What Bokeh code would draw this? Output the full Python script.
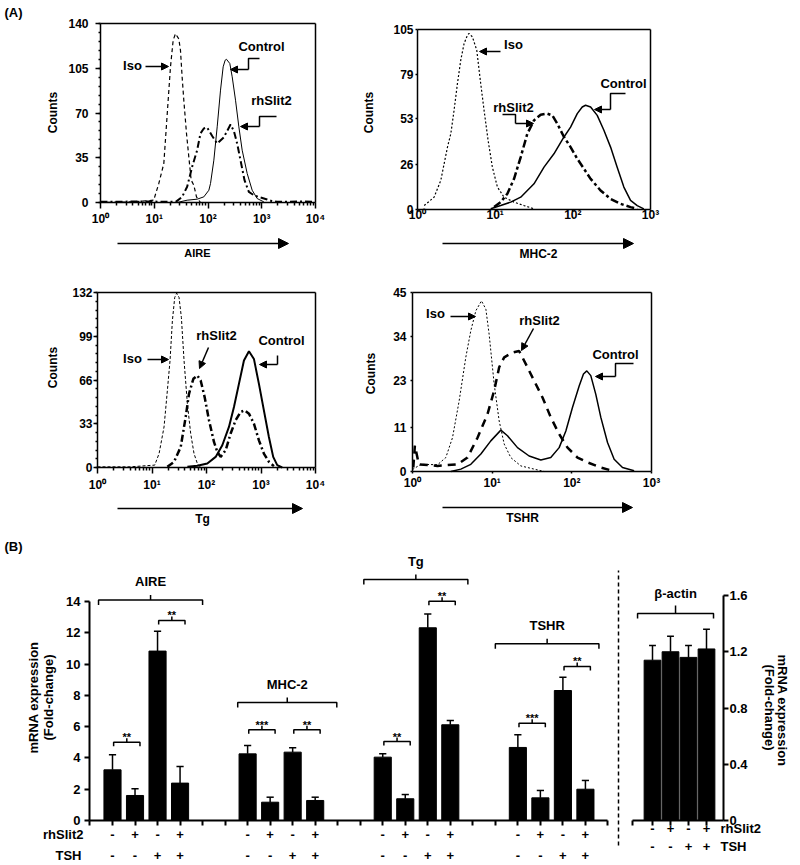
import numpy as np
from bokeh.plotting import figure
from bokeh.layouts import row, column
from bokeh.models import FixedTicker, Label, Arrow, NormalHead, LinearAxis, LogAxis
from bokeh.core.properties import value
from bokeh.embed import file_html
from bokeh.resources import INLINE

# ------------------------------------------------------------------ data (A)
# flow-cytometry histograms: fluorescence as log10 position, and cell counts
aire_iso_log10 = [0.0, 0.6, 0.99, 1.085, 1.178, 1.259, 1.302, 1.352, 1.395, 1.457, 1.488, 1.519, 1.550, 1.600, 1.643, 1.687, 1.736, 1.786, 1.860]
aire_iso_counts = [0, 0.5, 1.8, 14.9, 30.5, 80, 106, 127, 132, 128, 119, 98, 80, 54, 35.7, 17.5, 13.6, 4.4, 0]
aire_ctrl_log10 = [1.426, 1.612, 1.798, 1.922, 2.016, 2.047, 2.109, 2.171, 2.233, 2.282, 2.319, 2.344, 2.406, 2.450, 2.512, 2.574, 2.636, 2.729, 2.822, 2.915, 3.039]
aire_ctrl_counts = [0, 1.8, 2.6, 4.4, 9.6, 14.9, 33.1, 59.2, 87.9, 106.1, 111.3, 112, 108.7, 98.3, 80, 59.2, 40.9, 22.7, 9.6, 3.1, 0.5]
aire_rh_log10 = [0.0, 0.8, 1.4, 1.519, 1.612, 1.705, 1.798, 1.860, 1.922, 1.984, 2.078, 2.171, 2.295, 2.419, 2.481, 2.543, 2.605, 2.679, 2.760, 2.853, 2.977, 3.101, 3.194, 3.287, 3.7, 4.0]
aire_rh_counts = [0.5, 0.8, 0.5, 4.4, 12.3, 27.9, 40.9, 54, 57.9, 58.7, 52, 46.1, 51, 61, 56, 46, 33, 17.5, 8.3, 5.7, 3.9, 2.3, 1, 0.5, 0.8, 0.5]

mhc2_iso_log10 = [0.086, 0.214, 0.3, 0.386, 0.429, 0.471, 0.514, 0.557, 0.6, 0.643, 0.664, 0.707, 0.763, 0.814, 0.857, 0.909, 0.964, 1.029, 1.114, 1.243, 1.371, 1.5]
mhc2_iso_counts = [2.3, 7.2, 17, 36.4, 44.2, 57.9, 73.4, 87.1, 96.8, 101.7, 102.7, 100.7, 92.9, 73.4, 57.9, 40.3, 24.7, 13.1, 7.2, 4.3, 2.3, 0.4]
mhc2_rh_log10 = [0.986, 1.071, 1.157, 1.243, 1.329, 1.414, 1.5, 1.586, 1.671, 1.736, 1.8, 1.886, 1.971, 2.057, 2.143, 2.229, 2.357, 2.486, 2.614, 2.743, 2.829]
mhc2_rh_counts = [1.4, 4.3, 9.2, 17.9, 30.6, 44.2, 52, 55.3, 55.9, 54.9, 50.1, 42.3, 36.4, 29.6, 23.8, 17.9, 11.1, 6.2, 3.3, 1.4, 0.4]
mhc2_ctrl_log10 = [0.943, 1.071, 1.2, 1.329, 1.5, 1.629, 1.757, 1.886, 1.971, 2.057, 2.121, 2.164, 2.229, 2.314, 2.4, 2.486, 2.571, 2.657, 2.743, 2.829, 2.914]
mhc2_ctrl_counts = [0.4, 2.3, 4.3, 7.2, 15, 24.7, 32.5, 42.3, 48.1, 55.9, 59.8, 60.8, 59.8, 54.9, 46.2, 36.4, 24.7, 13.1, 5.3, 2.3, 0.4]

tg_iso_log10 = [0.0, 0.6, 1.05, 1.13, 1.221, 1.282, 1.331, 1.374, 1.417, 1.453, 1.496, 1.539, 1.588, 1.649, 1.71, 1.771, 1.832, 1.893]
tg_iso_counts = [0.5, 0.5, 1.8, 10.5, 30.6, 58.1, 80.7, 110.7, 128.3, 131.5, 128.3, 113.2, 80.7, 48.1, 25.6, 10.5, 3, 0]
tg_rh_log10 = [1.282, 1.405, 1.527, 1.618, 1.679, 1.759, 1.832, 1.893, 1.966, 2.046, 2.137, 2.198, 2.26, 2.351, 2.443, 2.534, 2.626, 2.699, 2.779, 2.87, 2.962, 3.053, 3.145, 3.237]
tg_rh_counts = [0.5, 4.3, 15.5, 38.1, 55.6, 66.9, 69.4, 65.6, 53.1, 35.6, 19.3, 11.8, 8, 13, 25.6, 35.6, 41.8, 43.1, 40.6, 33.1, 20.5, 10.5, 4.3, 1]
tg_ctrl_log10 = [1.649, 1.832, 2.015, 2.168, 2.29, 2.412, 2.504, 2.595, 2.687, 2.779, 2.87, 2.962, 3.053, 3.145, 3.224, 3.298, 3.389]
tg_ctrl_counts = [0.5, 1.3, 3, 8, 16.8, 30.6, 45.6, 63.1, 80.7, 87.7, 81.9, 63.1, 43.1, 23, 8, 1.8, 0]

tshr_iso_log10 = [0.0, 0.105, 0.314, 0.418, 0.502, 0.586, 0.669, 0.732, 0.795, 0.866, 0.921, 0.962, 1.025, 1.088, 1.151, 1.234, 1.36, 1.527, 1.653]
tshr_iso_counts = [0.5, 1.8, 1.7, 3.5, 8.5, 17.8, 28.7, 35.4, 40.4, 42.9, 40.8, 34.5, 22, 12.7, 6.9, 3.5, 1.4, 0.6, 0]
tshr_rh_log10 = [0.01, 0.03, 0.08, 0.314, 0.565, 0.69, 0.816, 0.941, 1.025, 1.088, 1.151, 1.255, 1.339, 1.423, 1.527, 1.632, 1.736, 1.841, 1.946, 2.071, 2.197, 2.364, 2.49]
tshr_rh_counts = [1.0, 6.5, 1.8, 1.4, 1.8, 3.5, 8.5, 14.4, 20.3, 26.2, 28.7, 29.9, 30.3, 27, 22.8, 18.6, 13.6, 9.4, 6, 3.5, 2.3, 1, 0.3]
tshr_ctrl_log10 = [0.481, 0.607, 0.732, 0.858, 0.983, 1.109, 1.192, 1.318, 1.464, 1.611, 1.736, 1.841, 1.925, 2.008, 2.092, 2.146, 2.188, 2.238, 2.301, 2.364, 2.448, 2.531, 2.636, 2.782]
tshr_ctrl_counts = [0, 0.6, 1.8, 4.4, 7.7, 10.4, 9, 6, 3.9, 2.9, 3.5, 6, 10.2, 16.1, 21.5, 24.5, 25.3, 24.1, 19.4, 13.6, 7.3, 3.1, 1, 0.2]

aire_yticks = [0, 35, 70, 105, 140]
mhc2_yticks = [0, 26, 53, 79, 105]
tg_yticks = [0, 33, 66, 99, 132]
tshr_yticks = [0, 11, 23, 34, 45]
superscripts = ["\u2070", "\u00b9", "\u00b2", "\u00b3", "\u2074"]

# ------------------------------------------------------------------ data (B)
gene_groups = ["AIRE", "MHC-2", "Tg", "TSHR"]
row_names = ["rhSlit2", "TSH"]
rhslit2_signs = ["-", "+", "-", "+"]
tsh_signs = ["-", "-", "+", "+"]
aire_mean = [3.24, 1.60, 10.83, 2.39]
aire_sem = [0.96, 0.43, 1.27, 1.06]
mhc2_mean = [4.26, 1.17, 4.37, 1.28]
mhc2_sem = [0.54, 0.32, 0.28, 0.21]
tg_mean = [4.05, 1.39, 12.32, 6.12]
tg_sem = [0.21, 0.27, 0.88, 0.27]
tshr_mean = [4.67, 1.45, 8.31, 2.00]
tshr_sem = [0.81, 0.47, 0.85, 0.56]
sig_labels = [["**", "**"], ["***", "**"], ["**", "**"], ["***", "**"]]
actin_mean = [1.14, 1.20, 1.16, 1.22]
actin_sem = [0.105, 0.11, 0.085, 0.14]
b_yticks = [0, 2, 4, 6, 8, 10, 12, 14]
actin_yticks = [0, 0.4, 0.8, 1.2, 1.6]

FONT = "Liberation Sans"


class Frame:
    """page-pixel -> data converter; every figure's frame fills its whole canvas"""
    def __init__(self, left, top, w, h, xr, yr, logx=False):
        self.left, self.top, self.w, self.h = left, top, w, h
        self.xr, self.yr, self.logx = xr, yr, logx

    def x(self, px):
        t = (px - self.left) / self.w
        if self.logx:
            a, b = np.log10(self.xr[0]), np.log10(self.xr[1])
            return float(10 ** (a + t * (b - a)))
        return self.xr[0] + t * (self.xr[1] - self.xr[0])

    def y(self, py):
        t = (py - self.top) / self.h
        return self.yr[1] - t * (self.yr[1] - self.yr[0])


def span_at(p0, v0, p1, v1, c0, c1):
    """values at canvas edges c0, c1 of a linear pixel->value map through (p0, v0), (p1, v1)"""
    k = (v1 - v0) / (p1 - p0)
    return v0 + (c0 - p0) * k, v0 + (c1 - p0) * k


def canvas_fig(ox, oy, W, H, xmap, ymap, logx=False):
    xa, xb = span_at(xmap[0], xmap[1], xmap[2], xmap[3], ox, ox + W)
    yb_, ya_ = span_at(ymap[0], ymap[1], ymap[2], ymap[3], oy, oy + H)
    xr = (10 ** xa, 10 ** xb) if logx else (xa, xb)
    yr = (ya_, yb_)
    p = figure(width=W, height=H, x_range=xr, y_range=yr, x_axis_type="log" if logx else "linear",
               x_axis_location=None, y_axis_location=None,
               min_border_left=0, min_border_right=0, min_border_top=0, min_border_bottom=0,
               output_backend="svg", toolbar_location=None)
    p.outline_line_color = None
    p.background_fill_color = "white"
    p.border_fill_color = "white"
    p.grid.visible = False
    return p, Frame(ox, oy, W, H, xr, yr, logx)


def rule(p, side, loc, bounds, ticks=(), tick_len=0, width=1.5, line=True, dash=None, cls=LinearAxis):
    """an axis line (with optional outward ticks) fixed at a data location; labels are set as text"""
    ax = cls(fixed_location=loc, bounds=tuple(bounds), ticker=FixedTicker(ticks=[], minor_ticks=list(ticks)),
             major_tick_out=0, major_tick_in=0, minor_tick_out=tick_len, minor_tick_in=0,
             minor_tick_line_color="black", minor_tick_line_width=width, major_label_standoff=0,
             axis_line_color="black" if line else None, axis_line_width=width)
    if dash:
        ax.axis_line_dash = dash
    p.add_layout(ax, side)
    return ax


def txt(p, xs, ys, texts, size=13, align="center", baseline="middle", angle=0.0, font=FONT):
    p.text(x=list(xs), y=list(ys), text=list(texts), angle=angle, text_font=value(font),
           text_font_style="bold", text_font_size=f"{size}px", text_align=align,
           text_baseline=baseline, text_color="black")


def label(p, g, px, py, text, size=13, align="center", angle=0.0):
    p.add_layout(Label(x=g.x(px), y=g.y(py), text=text, text_font=FONT,
                       text_font_size=f"{size}px", text_font_style="bold", text_color="black",
                       text_align=align, text_baseline="middle", angle=angle))


def pointer(p, g, pts, head=7, lw=1.5):
    if len(pts) > 2:
        p.line([g.x(a) for a, _ in pts[:-1]], [g.y(b) for _, b in pts[:-1]],
               line_color="black", line_width=lw)
    (x0, y0), (x1, y1) = pts[-2], pts[-1]
    p.add_layout(Arrow(end=NormalHead(size=head, fill_color="black", line_color="black", line_width=1),
                       x_start=g.x(x0), y_start=g.y(y0), x_end=g.x(x1), y_end=g.y(y1),
                       line_color="black", line_width=lw))


def hist_panel(canvas, box, ndec, yticks, minor, xtick_len, ytick_len, xlab_py, ylab_px, counts_px,
               caption, cap_size, arrow_px, cap_px):
    ox, oy, W, H = canvas
    bl, bt, br, bb = box
    ymax = yticks[-1]
    xmax = 10 ** ndec
    p, g = canvas_fig(ox, oy, W, H, (bl, 0.0, br, float(ndec)), (bb, 0.0, bt, float(ymax)), logx=True)
    decades = [10 ** k for k in range(ndec + 1)]
    rule(p, "left", 1, (0, ymax), yticks, ytick_len)
    rule(p, "below", 0, (1, xmax), decades, xtick_len, cls=LogAxis)
    rule(p, "above", ymax, (1, xmax), cls=LogAxis)
    rule(p, "right", xmax, (0, ymax))
    if minor:
        step = (yticks[1] - yticks[0]) / 5
        rule(p, "left", 1, (0, ymax), [k * step for k in range(5 * (len(yticks) - 1) + 1)], 2, line=False)
        rule(p, "below", 0, (1, xmax), [m * 10 ** k for k in range(ndec) for m in range(2, 10)], 3,
             line=False, cls=LogAxis)
    txt(p, decades, [g.y(xlab_py)] * len(decades), ["10" + superscripts[k] for k in range(ndec + 1)], size=12)
    txt(p, [g.x(ylab_px)] * len(yticks), yticks, [str(t) for t in yticks], size=12, align="right")
    txt(p, [g.x(counts_px[0])], [g.y(counts_px[1])], ["Counts"], size=12, angle=np.pi / 2)
    pointer(p, g, arrow_px, head=10)
    txt(p, [g.x(cap_px[0])], [g.y(cap_px[1])], [caption], size=cap_size)
    return p, g


def curves(p, iso, rh, ctrl, iso_style, rh_style, ctrl_w):
    p.line(10 ** np.array(iso[0]), iso[1], line_color="black", line_width=iso_style[1], line_dash=iso_style[0])
    p.line(10 ** np.array(rh[0]), rh[1], line_color="black", line_width=rh_style[1], line_dash=rh_style[0])
    p.line(10 ** np.array(ctrl[0]), ctrl[1], line_color="black", line_width=ctrl_w)


# ---------------------------------------------------------------- A1: AIRE
p1, g1 = hist_panel((0, 0, 355, 270), (100, 23, 315, 202), 4, aire_yticks, True, 6, 5, 218, 88, (52, 112),
                    "AIRE", 11, [(117, 243), (288, 243)], (197, 252))
curves(p1, (aire_iso_log10, aire_iso_counts), (aire_rh_log10, aire_rh_counts), (aire_ctrl_log10, aire_ctrl_counts),
       ("4 3", 1.2), ("7 3 2 3", 2.0), 1.0)
txt(p1, [g1.x(4)], [g1.y(12)], ["(A)"], size=13, align="left")
label(p1, g1, 132, 65, "Iso", 13)
pointer(p1, g1, [(145, 66), (168, 66)])
label(p1, g1, 261, 46, "Control", 13)
pointer(p1, g1, [(259, 58), (248, 58), (248, 69), (230, 69)])
label(p1, g1, 271, 100, "rhSlit2", 13)
pointer(p1, g1, [(276, 116), (259, 116), (259, 126), (240, 126)])

# ---------------------------------------------------------------- A2: MHC-2
p2, g2 = hist_panel((355, 0, 443, 270), (417, 29, 650, 209), 3, mhc2_yticks, False, 2, 2, 214, 413, (368, 112),
                    "MHC-2", 12, [(442, 243), (633, 243)], (538, 253))
curves(p2, (mhc2_iso_log10, mhc2_iso_counts), (mhc2_rh_log10, mhc2_rh_counts), (mhc2_ctrl_log10, mhc2_ctrl_counts),
       ("2 2", 1.2), ("8 3 3 3", 2.5), 1.5)
label(p2, g2, 513, 44, "Iso", 13)
pointer(p2, g2, [(500, 51), (479, 51)])
label(p2, g2, 623, 83, "Control", 13)
pointer(p2, g2, [(625, 93), (610, 93), (610, 109), (594, 109)])
label(p2, g2, 513, 107, "rhSlit2", 13)
pointer(p2, g2, [(502, 114), (515, 114), (515, 123), (533, 123)])

# ---------------------------------------------------------------- A3: Tg
p3, g3 = hist_panel((0, 270, 355, 260), (97, 292, 315, 467), 4, tg_yticks, True, 6, 4, 484, 92, (52, 367),
                    "Tg", 12, [(117, 508), (302, 508)], (202, 518))
curves(p3, (tg_iso_log10, tg_iso_counts), (tg_rh_log10, tg_rh_counts), (tg_ctrl_log10, tg_ctrl_counts),
       ("3 2", 1.0), ("7 3 2 3", 2.5), 2.0)
label(p3, g3, 132, 358, "Iso", 13)
pointer(p3, g3, [(147, 359), (168, 359)])
label(p3, g3, 216, 335, "rhSlit2", 13)
pointer(p3, g3, [(208, 347), (199, 368)])
label(p3, g3, 281, 340, "Control", 13)
pointer(p3, g3, [(277, 355), (277, 364), (259, 364)])

# ---------------------------------------------------------------- A4: TSHR
p4, g4 = hist_panel((355, 270, 443, 260), (412, 292, 651, 471), 3, tshr_yticks, False, 2, 2, 482, 406, (370, 373),
                    "TSHR", 12, [(442, 507), (632, 507)], (522, 517))
curves(p4, (tshr_iso_log10, tshr_iso_counts), (tshr_rh_log10, tshr_rh_counts), (tshr_ctrl_log10, tshr_ctrl_counts),
       ("2 2", 1.0), ("8 6", 2.5), 1.5)
label(p4, g4, 435, 313, "Iso", 13)
pointer(p4, g4, [(450, 316), (475, 316)])
label(p4, g4, 539, 320, "rhSlit2", 13)
pointer(p4, g4, [(533, 328), (521, 350)])
label(p4, g4, 615, 354, "Control", 13)
pointer(p4, g4, [(633, 363), (615, 363), (615, 376), (595, 376)])

# ---------------------------------------------------------------- B: qPCR bars
B_UNIT = (820 - 601) / 14.0          # px per fold-change unit
B_SLOT = 22.52                       # px per bar slot
pb, gB = canvas_fig(0, 530, 612, 333, (112, 0.0, 112 + B_SLOT, 1.0), (820, 0.0, 820 - B_UNIT, 1.0))
slot_ticks = list(range(-1, 23))
rule(pb, "left", -1, (b_yticks[0], b_yticks[-1]), b_yticks, 5, width=2)
rule(pb, "below", 0, (slot_ticks[0], slot_ticks[-1]), slot_ticks, 5, width=2)
txt(pb, [gB.x(80)] * len(b_yticks), b_yticks, [str(t) for t in b_yticks], size=13, align="right")

means = [aire_mean, mhc2_mean, tg_mean, tshr_mean]
sems = [aire_sem, mhc2_sem, tg_sem, tshr_sem]
group_start = [0, 6, 12, 18]
xs = np.array([s + i for s in group_start for i in range(4)], dtype=float)
tops = np.array(sum(means, []))
his = tops + np.array(sum(sems, []))
pb.vbar(x=xs, top=tops, bottom=0, width=0.76, fill_color="black", line_color="black")
pb.segment(x0=xs, y0=tops, x1=xs, y1=his, line_color="black", line_width=1.5)
pb.segment(x0=xs - 0.16, y0=his, x1=xs + 0.16, y1=his, line_color="black", line_width=1.5)

row_py = [834, 855]
txt(pb, xs, [gB.y(row_py[0])] * len(xs), rhslit2_signs * 4, size=13)
txt(pb, xs, [gB.y(row_py[1])] * len(xs), tsh_signs * 4, size=13)
txt(pb, [gB.x(83), gB.x(81)], [gB.y(row_py[0]), gB.y(row_py[1])], row_names, size=13, align="right")
txt(pb, [gB.x(4)], [gB.y(546)], ["(B)"], size=13, align="left")
txt(pb, [gB.x(33), gB.x(48)], [gB.y(697)] * 2, ["mRNA expression", "(Fold-change)"], size=13, angle=np.pi / 2)

# group brackets
grp_span = [(-0.62, 4.0), (-0.44, 3.96), (-0.84, 3.78), (-1.0, 3.6)]
grp_level = [14.1, 7.55, 15.4, 11.3]
drop, up = 5 / B_UNIT, 5 / B_UNIT
bxl, byl, cx, cy = [], [], [], []
for s, (a, b), lv in zip(group_start, grp_span, grp_level):
    bxl.append([s + a, s + a, s + b, s + b]); byl.append([lv - drop, lv, lv, lv - drop])
    c = s + (a + b) / 2
    bxl.append([c, c]); byl.append([lv, lv + up])
    cx.append(c); cy.append(lv + 18 / B_UNIT)
pb.multi_line(bxl, byl, line_color="black", line_width=1.5)
txt(pb, cx, cy, gene_groups, size=13)

# significance brackets
sig_level = [[5.0, 12.79], [5.8, 5.8], [5.05, 14.02], [6.22, 9.85]]
sx, sy, tx, ty, tt = [], [], [], [], []
d2 = 4 / B_UNIT
for s, lvls, labs in zip(group_start, sig_level, sig_labels):
    for k, (lv, lab) in enumerate(zip(lvls, labs)):
        a, b = s + 2 * k + 0.05, s + 2 * k + 1.22
        sx.append([a, a, b, b]); sy.append([lv - d2, lv, lv, lv - d2])
        c = (a + b) / 2
        sx.append([c, c]); sy.append([lv, lv + d2])
        tx.append(c); ty.append(lv + 5 / B_UNIT); tt.append(lab)
pb.multi_line(sx, sy, line_color="black", line_width=1.5)
txt(pb, tx, ty, tt, size=11, baseline="alphabetic")

# ---------------------------------------------------------------- B: beta-actin
A_UNIT = (820 - 595) / 1.6
A_SLOT = 18.0
pa, gA = canvas_fig(612, 530, 186, 333, (652, 0.0, 652 + A_SLOT, 1.0), (820, 0.0, 820 - A_UNIT, 1.0))
ax_pos = np.arange(len(actin_mean), dtype=float)
a_right = gA.x(723)
a_left = gA.x(632)
rule(pa, "right", a_right, (actin_yticks[0], actin_yticks[-1]), actin_yticks, 5, width=2)
rule(pa, "below", 0, (a_left, a_right), [a_left] + list(ax_pos), 5, width=2)
rule(pa, "left", gA.x(618), (gA.y(845), gA.y(570)), line=True, dash="4 3")
txt(pa, [gA.x(729)] * len(actin_yticks), actin_yticks,
    ["0" if t == 0 else f"{t:.1f}" for t in actin_yticks], size=13, align="left")

a_top = np.array(actin_mean)
a_hi = a_top + np.array(actin_sem)
pa.vbar(x=ax_pos, top=a_top, bottom=0, width=0.93, fill_color="black", line_color="black")
pa.segment(x0=ax_pos, y0=a_top, x1=ax_pos, y1=a_hi, line_color="black", line_width=1.5)
pa.segment(x0=ax_pos - 0.19, y0=a_hi, x1=ax_pos + 0.19, y1=a_hi, line_color="black", line_width=1.5)
a_row_py = [828, 846]
txt(pa, ax_pos, [gA.y(a_row_py[0])] * 4, rhslit2_signs, size=13)
txt(pa, ax_pos, [gA.y(a_row_py[1])] * 4, tsh_signs, size=13)
txt(pa, [gA.x(720)] * 2, [gA.y(v) for v in a_row_py], row_names, size=13, align="left")
txt(pa, [gA.x(782), gA.x(769)], [gA.y(710), gA.y(707)], ["mRNA expression", "(Fold-change)"], size=13,
    angle=-np.pi / 2)
# beta-actin bracket
ba, bb, blv = -0.83, 3.39, gA.y(613)
pa.multi_line([[ba, ba, bb, bb], [(ba + bb) / 2, (ba + bb) / 2]],
              [[blv - 5 / A_UNIT, blv, blv, blv - 5 / A_UNIT], [blv, blv + 8 / A_UNIT]],
              line_color="black", line_width=1.5)
txt(pa, [(ba + bb) / 2], [gA.y(593)], ["\u03b2-actin"], size=13)

layout = column(row(p1, p2), row(p3, p4), row(pb, pa))
with open("out.html", "w", encoding="utf-8") as f:
    f.write(file_html(layout, INLINE))
